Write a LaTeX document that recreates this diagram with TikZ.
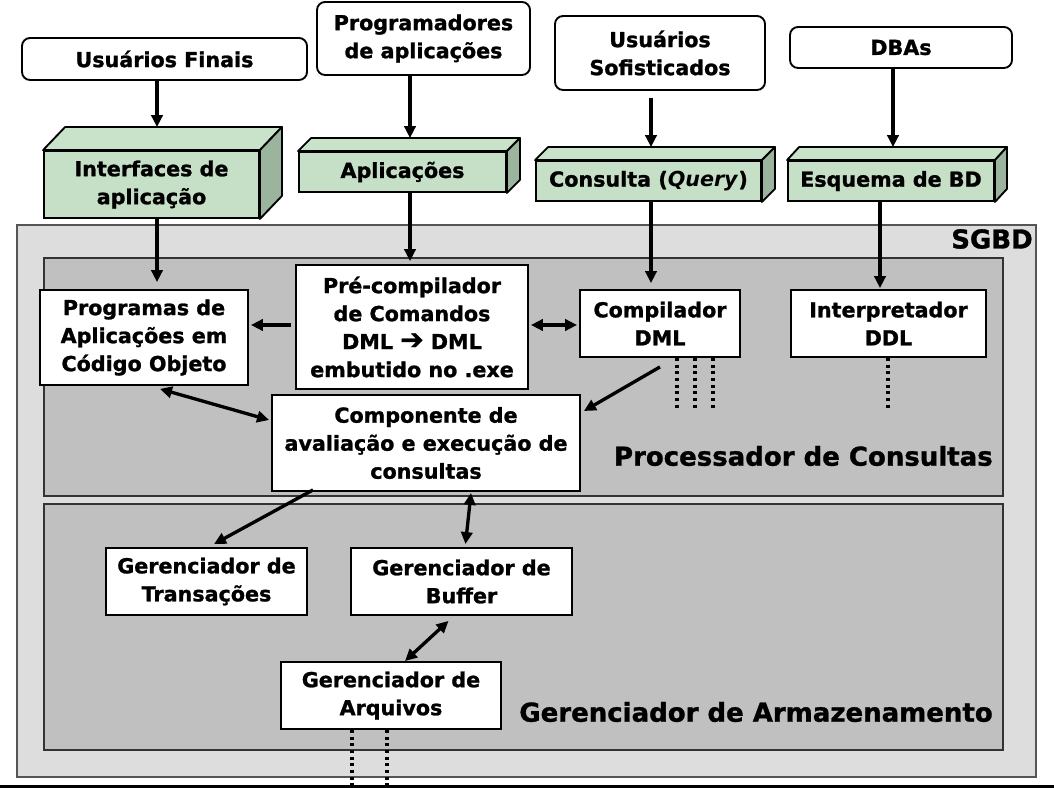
\documentclass[tikz,border=0pt]{standalone}
\usepackage{fontspec}
\setmainfont{DejaVu Sans}[BoldFeatures={FakeBold=1.2}]
\usetikzlibrary{calc,arrows.meta}
\definecolor{sgbdfill}{HTML}{DDDDDD}
\definecolor{sgbdline}{HTML}{555555}
\definecolor{panelfill}{HTML}{C0C0C0}
\definecolor{panelline}{HTML}{333333}
\definecolor{gfrontc}{HTML}{C5E0C7}
\definecolor{gtopc}{HTML}{C9E3CB}
\definecolor{gsidec}{HTML}{9BB49D}
\newcommand\nodefont{\fontsize{15.5}{21}\selectfont\bfseries}
\newcommand\bigfont{\fontsize{19.5}{24}\selectfont\bfseries}
\begin{document}
\begin{tikzpicture}[x=0.75pt,y=-0.75pt,
  topbox/.style={draw=black, line width=1.4pt, rounded corners=6pt, fill=white, align=center, font=\nodefont, inner sep=0pt},
  wbox/.style={draw=black, line width=1.4pt, fill=white, align=center, font=\nodefont, inner sep=0pt},
  gbox/.style={draw=black, line width=1.4pt, fill=gfrontc, align=center, font=\nodefont, inner sep=0pt},
  gtop/.style={draw=black, line width=1.4pt, fill=gtopc, line join=round},
  gside/.style={draw=black, line width=1.4pt, fill=gsidec, line join=round},
  arr/.style={line width=2.5pt, -{Triangle[length=9pt,width=8.5pt]}},
  darr/.style={line width=2.5pt, {Triangle[length=9pt,width=8.5pt]}-{Triangle[length=9pt,width=8.5pt]}},
  dotline/.style={line width=2.6pt, dash pattern=on 2.4pt off 2.6pt},
  bigtext/.style={font=\bigfont, inner sep=0pt}
]
\useasboundingbox (0,0) rectangle (1054,788);
\fill[white] (0,0) rectangle (1054,788);

% SGBD container and panels
\node[draw=sgbdline, line width=1.5pt, fill=sgbdfill, minimum width=1019*0.75pt, minimum height=552*0.75pt, inner sep=0pt] (sgbd) at (526.5,501) {};
\node[draw=panelline, line width=1.5pt, fill=panelfill, minimum width=959*0.75pt, minimum height=238*0.75pt, inner sep=0pt] (proc) at (523.5,377) {};
\node[draw=panelline, line width=1.5pt, fill=panelfill, minimum width=959*0.75pt, minimum height=246*0.75pt, inner sep=0pt] (armz) at (523.5,627) {};
\node[bigtext, anchor=east] (sgbdlbl) at (1033,239) {SGBD};
\node[bigtext, anchor=east] (proclbl) at (993,456) {Processador de Consultas};
\node[bigtext, anchor=east] (armzlbl) at (993,712) {Gerenciador de Armazenamento};

% top actor boxes
\node[topbox, minimum width=285*0.75pt, minimum height=42*0.75pt] (ufin) at (164.5,59) {Usuários Finais};
\node[topbox, minimum width=213*0.75pt, minimum height=73*0.75pt] (prog) at (423.5,38.5) {Programadores\\de aplicações};
\node[topbox, minimum width=210*0.75pt, minimum height=74*0.75pt] (usof) at (660,53) {Usuários\\Sofisticados};
\node[topbox, minimum width=222*0.75pt, minimum height=41*0.75pt] (dbas) at (901,47.5) {DBAs};

% 3D green boxes
\node[gbox, minimum width=215*0.75pt, minimum height=67*0.75pt] (iface) at (151.5,184.5) {Interfaces de\\aplicação};
\draw[gtop] (iface.north west) -- ++(22,-23) -- ($(iface.north east)+(22,-23)$) -- (iface.north east) -- cycle;
\draw[gside] (iface.north east) -- ++(22,-23) -- ($(iface.south east)+(22,-23)$) -- (iface.south east) -- cycle;

\node[gbox, minimum width=207*0.75pt, minimum height=40*0.75pt] (aplic) at (402.5,172) {Aplicações};
\draw[gtop] (aplic.north west) -- ++(13,-13) -- ($(aplic.north east)+(13,-13)$) -- (aplic.north east) -- cycle;
\draw[gside] (aplic.north east) -- ++(13,-13) -- ($(aplic.south east)+(13,-13)$) -- (aplic.south east) -- cycle;

\node[gbox, minimum width=225*0.75pt, minimum height=40*0.75pt] (cons) at (648.5,181) {Consulta (\textit{Query})};
\draw[gtop] (cons.north west) -- ++(13,-13) -- ($(cons.north east)+(13,-13)$) -- (cons.north east) -- cycle;
\draw[gside] (cons.north east) -- ++(13,-13) -- ($(cons.south east)+(13,-13)$) -- (cons.south east) -- cycle;

\node[gbox, minimum width=206*0.75pt, minimum height=40*0.75pt] (esq) at (891,181) {Esquema de BD};
\draw[gtop] (esq.north west) -- ++(12,-13) -- ($(esq.north east)+(12,-13)$) -- (esq.north east) -- cycle;
\draw[gside] (esq.north east) -- ++(12,-13) -- ($(esq.south east)+(12,-13)$) -- (esq.south east) -- cycle;

% inner nodes
\node[wbox, minimum width=208*0.75pt, minimum height=95*0.75pt] (progobj) at (144,337.5) {Programas de\\Aplicações em\\Código Objeto};
\node[wbox, minimum width=232*0.75pt, minimum height=124*0.75pt] (precomp) at (412,327) {Pré-compilador\\de Comandos\\DML {\fontsize{21}{21}\selectfont ➔} DML\\embutido no .exe};
\node[wbox, minimum width=160*0.75pt, minimum height=67*0.75pt] (compdml) at (660,323.5) {Compilador\\DML};
\node[wbox, minimum width=195*0.75pt, minimum height=67*0.75pt] (interp) at (888.5,323.5) {Interpretador\\DDL};
\node[wbox, minimum width=308*0.75pt, minimum height=96*0.75pt] (compon) at (426,443) {Componente de\\avaliação e execução de\\consultas};
\node[wbox, minimum width=201*0.75pt, minimum height=67*0.75pt] (trans) at (206.5,581.5) {Gerenciador de\\Transações};
\node[wbox, minimum width=221*0.75pt, minimum height=67*0.75pt] (buffer) at (461.5,581.5) {Gerenciador de\\Buffer};
\node[wbox, minimum width=220*0.75pt, minimum height=67*0.75pt] (arq) at (391,695.5) {Gerenciador de\\Arquivos};

% arrows from actors
\draw[arr] ($(ufin.south)+(-7.5,0)$) -- ($(iface.north)+(5.5,-23)$);
\draw[arr] ($(prog.south)+(-13.5,0)$) -- ($(aplic.north)+(7.5,-13)$);
\draw[arr] ($(usof.south)+(-9,7)$) -- ($(cons.north)+(2.5,-13)$);
\draw[arr] ($(dbas.south)+(-8,0)$) -- ($(esq.north)+(2,-13)$);

% arrows into SGBD
\draw[arr] ($(iface.south)+(5.5,0)$) -- ($(progobj.north)+(13,-7)$);
\draw[arr] ($(aplic.south)+(7.5,0)$) -- ($(precomp.north)+(-2,-3)$);
\draw[arr] ($(cons.south)+(2.5,0)$) -- ($(compdml.north)+(-9,-6)$);
\draw[arr] ($(esq.south)+(-11,0)$) -- ($(interp.north)+(-8.5,-1)$);

% internal arrows
\draw[arr] ($(precomp.west)+(-4,-2)$) -- ($(progobj.east)+(2,-12.5)$);
\draw[darr] ($(precomp.east)+(2,-2)$) -- ($(compdml.west)+(-2,1.5)$);
\draw[arr] ($(compdml.south)+(0,9)$) -- ($(compon.east)+(3,-32)$);
\draw[darr] ($(progobj.south)+(16,3)$) -- ($(compon.west)+(-2,-23)$);
\draw[arr] ($(compon.south)+(-113,-2)$) -- ($(trans.north)+(7.5,-3)$);
\draw[darr] ($(compon.south)+(45,1)$) -- ($(buffer.north)+(4,-3)$);
\draw[darr] ($(buffer.south)+(-13,5)$) -- ($(arq.north)+(14,0)$);

% dotted lines
\coordinate (d1) at (677,410);
\coordinate (d2) at (695,410);
\coordinate (d3) at (713,410);
\coordinate (d4) at (888,410);
\coordinate (d5) at (352,788);
\coordinate (d6) at (387,788);
\draw[dotline] (compdml.south -| d1) -- (d1);
\draw[dotline] (compdml.south -| d2) -- (d2);
\draw[dotline] (compdml.south -| d3) -- (d3);
\draw[dotline] (interp.south -| d4) -- (d4);
\draw[dotline] (arq.south -| d5) -- (d5);
\draw[dotline] (arq.south -| d6) -- (d6);

% bottom rule
\coordinate (bl) at (0,786.5);
\coordinate (br) at (1054,786.5);
\draw[line width=2.5pt, black] (bl) -- (br);
\end{tikzpicture}
\end{document}
